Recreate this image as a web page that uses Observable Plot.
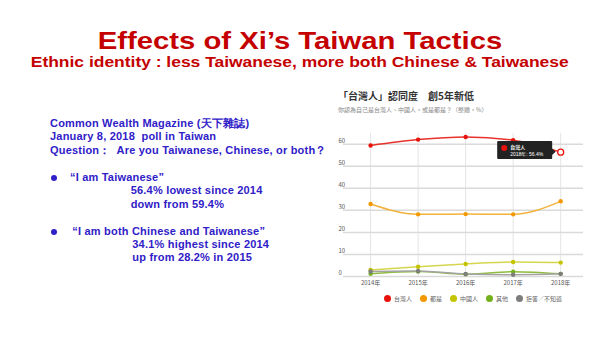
<!DOCTYPE html>
<html><head><meta charset="utf-8">
<script src="https://cdn.jsdelivr.net/npm/d3@7"></script>
<script src="https://cdn.jsdelivr.net/npm/@observablehq/plot@0.6"></script>
<style>
html,body{margin:0;padding:0;background:#fff}
body{width:600px;height:338px;position:relative;overflow:hidden;font-family:"Liberation Sans",Arial,sans-serif}
.abs{position:absolute;white-space:nowrap;line-height:1}
.t1{left:0;width:600px;text-align:center;top:28.7px;font-size:24px;font-weight:bold;color:#c40000;transform:scaleX(1.22);transform-origin:300px 0}
.t2{left:0;width:600px;text-align:center;top:54.9px;font-size:14px;font-weight:bold;color:#c40000;transform:scaleX(1.245);transform-origin:301px 0}
.bl{font-size:11px;font-weight:bold;color:#3020c8;letter-spacing:0.2px}
.bullet{width:6px;height:6px;border-radius:50%;background:#3020c8}
.ct{left:338px;top:91px;font-size:10px;font-weight:bold;color:#333;font-family:"Noto Sans CJK TC",sans-serif}
.cs{left:338px;top:107px;font-size:6px;color:#888;font-family:"Noto Sans CJK TC",sans-serif}
#chart{position:absolute;left:330px;top:120px}
#legend{position:absolute;left:384px;top:295px;display:flex;align-items:center;font-size:6px;color:#666;font-family:"Noto Sans CJK TC",sans-serif;line-height:1}
#legend .it{display:flex;align-items:center;margin-right:8px}
#legend .sw{width:7px;height:7px;border-radius:50%;margin-right:3px}
</style></head><body>
<div class="abs t1">Effects of Xi’s Taiwan Tactics</div>
<div class="abs t2">Ethnic identity : less Taiwanese, more both Chinese &amp; Taiwanese</div>

<div class="abs bl" style="left:50px;top:117.7px">Common Wealth Magazine (天下雜誌)</div>
<div class="abs bl" style="left:50px;top:131.4px">January 8, 2018&nbsp; poll in Taiwan</div>
<div class="abs bl" style="left:50px;top:144.7px">Question：&nbsp; Are you Taiwanese, Chinese, or both？</div>
<div class="abs bullet" style="left:51.3px;top:174.7px"></div>
<div class="abs bl" style="left:70px;top:171.7px">“I am Taiwanese”</div>
<div class="abs bl" style="left:130.7px;top:184.7px">56.4% lowest since 2014</div>
<div class="abs bl" style="left:130.7px;top:199px">down from 59.4%</div>
<div class="abs bullet" style="left:51.3px;top:228.7px"></div>
<div class="abs bl" style="left:72.3px;top:226.4px">“I am both Chinese and Taiwanese”</div>
<div class="abs bl" style="left:132.3px;top:239.4px">34.1% highest since 2014</div>
<div class="abs bl" style="left:132.3px;top:252.4px">up from 28.2% in 2015</div>

<div class="abs ct">「台灣人」認同度　創5年新低</div>
<div class="abs cs">你認為自己是台灣人、中國人，或是都是？（整體，%）</div>
<div id="chart"></div>
<div id="legend"></div>

<script>
const years = [2014, 2015, 2016, 2017, 2018];
const seriesNames = ["台灣人", "都是", "中國人", "其他", "拒答／不知道"];
const taiwanese = [59.4, 62.1, 63.3, 61.8, 56.4];
const both = [32.9, 28.2, 28.3, 28.2, 34.1];
const chinese = [3.0, 4.4, 5.7, 6.6, 6.3];
const other = [1.3, 2.3, 1.0, 2.2, 1.2];
const noAnswer = [2.3, 2.5, 1.1, 0.8, 1.2];
const yTicks = [0, 10, 20, 30, 40, 50, 60];
const yearLabels = ["2014年", "2015年", "2016年", "2017年", "2018年"];

const dotColors = ["#e8120c", "#f39800", "#c3c300", "#74b01a", "#7d7d7d"];
const lineColors = ["#e8322c", "#f2b23c", "#d6d64e", "#8fbc3e", "#a3a3a3"];

const seriesValues = [taiwanese, both, chinese, other, noAnswer];
const rows = seriesNames.flatMap((name, si) =>
  years.map((year, yi) => ({series: name, si, year, value: seriesValues[si][yi]})));
const highlight = rows.filter(d => d.si === 0 && d.year === 2018);
const plainDots = rows.filter(d => !(d.si === 0 && d.year === 2018));

function tooltip(index, scales) {
  const d = highlight[0];
  const sx = scales.x(d.year), sy = scales.y(d.value);
  const g = d3.create("svg:g").attr("text-anchor", "start");
  g.append("rect").attr("x", sx - 63).attr("y", sy - 10.7).attr("width", 55).attr("height", 18)
    .attr("rx", 1).attr("fill", "#222");
  g.append("path").attr("d", `M${sx-8.5},${sy-3.5}L${sx-4.5},${sy}L${sx-8.5},${sy+3.5}Z`).attr("fill", "#222");
  g.append("circle").attr("cx", sx - 56).attr("cy", sy - 3.6).attr("r", 3).attr("fill", dotColors[0]);
  g.append("text").attr("x", sx - 50).attr("y", sy - 2.9).attr("fill", "#fff")
    .attr("font-size", 5).attr("font-weight", "bold").text(d.series);
  g.append("text").attr("x", sx - 50).attr("y", sy + 4.0).attr("fill", "#fff")
    .attr("font-family", "'Liberation Sans', sans-serif")
    .attr("font-size", 5).text(`${d.year}年: ${d.value}%`);
  return g.node();
}

const chart = Plot.plot({
  width: 260,
  height: 175,
  marginLeft: 13,
  marginRight: 7,
  marginTop: 12.7,
  marginBottom: 19,
  style: {fontFamily: "'Noto Sans CJK TC', 'Liberation Sans', sans-serif", background: "transparent"},
  x: {domain: [2013.43, 2018.48], axis: null},
  y: {domain: [0, 65], axis: null},
  color: {type: "identity"},
  marks: [
    Plot.ruleX(years, {x: d => d, stroke: "#e4e4e4", strokeWidth: 1}),
    Plot.ruleY(yTicks, {y: d => d, stroke: "#dadada", strokeWidth: 1.5}),
    Plot.axisX(years, {tickSize: 0, tickPadding: 4, label: null, tickFormat: d => yearLabels[years.indexOf(d)], fontSize: 6, fill: "#555"}),
    Plot.axisY(yTicks, {tickSize: 0, tickPadding: 0, label: null, textAnchor: "start", dx: -5, dy: -3, fontSize: 6, fill: "#555"}),
    Plot.line(rows, {x: "year", y: "value", z: "series", stroke: d => lineColors[d.si], strokeWidth: 1.5, curve: "monotone-x"}),
    Plot.dot(plainDots, {x: "year", y: "value", r: 2.2, fill: d => dotColors[d.si]}),
    Plot.dot(highlight, {x: "year", y: "value", r: 3, fill: "#fff", stroke: dotColors[0], strokeWidth: 1.3}),
    tooltip
  ]
});
document.getElementById("chart").appendChild(chart);

const legend = document.getElementById("legend");
seriesNames.forEach((name, i) => {
  const it = document.createElement("div");
  it.className = "it";
  const sw = document.createElement("div");
  sw.className = "sw";
  sw.style.background = dotColors[i];
  const lb = document.createElement("span");
  lb.textContent = name;
  it.appendChild(sw); it.appendChild(lb);
  legend.appendChild(it);
});
</script>
</body></html>
